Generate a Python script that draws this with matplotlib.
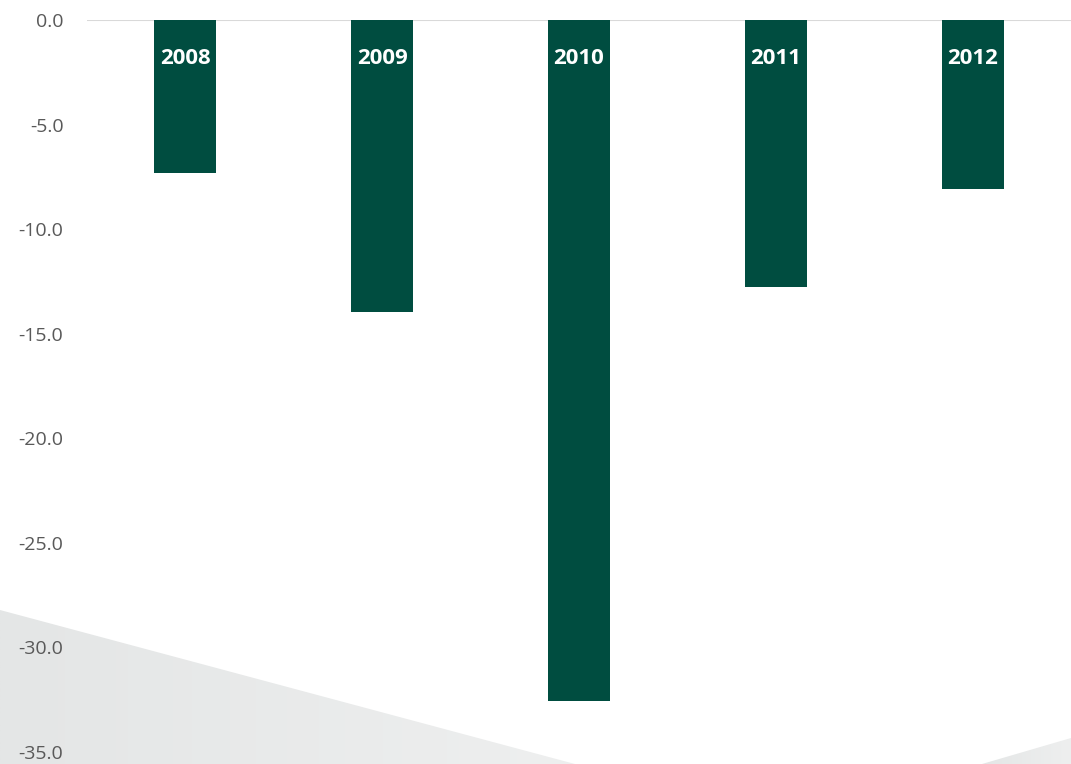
import numpy as np
import matplotlib.pyplot as plt
from matplotlib.patches import Polygon
from matplotlib.colors import LinearSegmentedColormap

years = ['2008', '2009', '2010', '2011', '2012']
values = [-7.3, -13.95, -32.55, -12.75, -8.1]
yticks = [0, -5, -10, -15, -20, -25, -30, -35]

plt.rcParams['font.family'] = ['Open Sans', 'DejaVu Sans']

W, H = 1071, 764
fig = plt.figure(figsize=(W / 100, H / 100), dpi=100)

# grey background shapes, drawn in a full-figure axes behind everything
bg = fig.add_axes([0, 0, 1, 1], zorder=-5)
bg.axis('off')
cmap = LinearSegmentedColormap.from_list('g', ['#E4E6E6', '#EEEFEF'])
grad = np.linspace(0, 1, 256).reshape(1, -1)
p1 = Polygon([(0, 610), (575, H), (0, H)], closed=True, facecolor='none', edgecolor='none')
p2 = Polygon([(982, H), (W, 738), (W, H)], closed=True, facecolor='none', edgecolor='none')
for p, ext in ((p1, (0, 575, H, 610)), (p2, (982, W, H, 738))):
    bg.add_patch(p)
    im = bg.imshow(grad, cmap=cmap, extent=ext, aspect='auto')
    im.set_clip_path(p)
bg.set_xlim(0, W)
bg.set_ylim(H, 0)

ax = fig.add_axes([87 / W, 12 / H, (W - 87) / W, (752 - 20) / H])
ax.patch.set_alpha(0)

x = np.arange(len(years))
ax.bar(x, values, width=0.315, color='#004D40', zorder=2)

for xi, lab in zip(x, years):
    ax.annotate(lab, (xi, 0), xytext=(0, -28), textcoords='offset points',
                ha='center', va='center', color='white', fontsize=16,
                fontweight='bold', zorder=3)

ax.set_xlim(-0.5, len(years) - 0.5)
ax.set_ylim(-35, 0)
ax.set_yticks(yticks)
ax.set_yticklabels(['%.1f' % v for v in yticks])
ax.set_xticks([])
ax.axhline(0, color='#D9D9D9', lw=1.5, zorder=1)
for s in ax.spines.values():
    s.set_visible(False)
ax.tick_params(axis='y', length=0, pad=17, labelsize=14, labelcolor='#595959')

fig.savefig('out.png', dpi=100)
